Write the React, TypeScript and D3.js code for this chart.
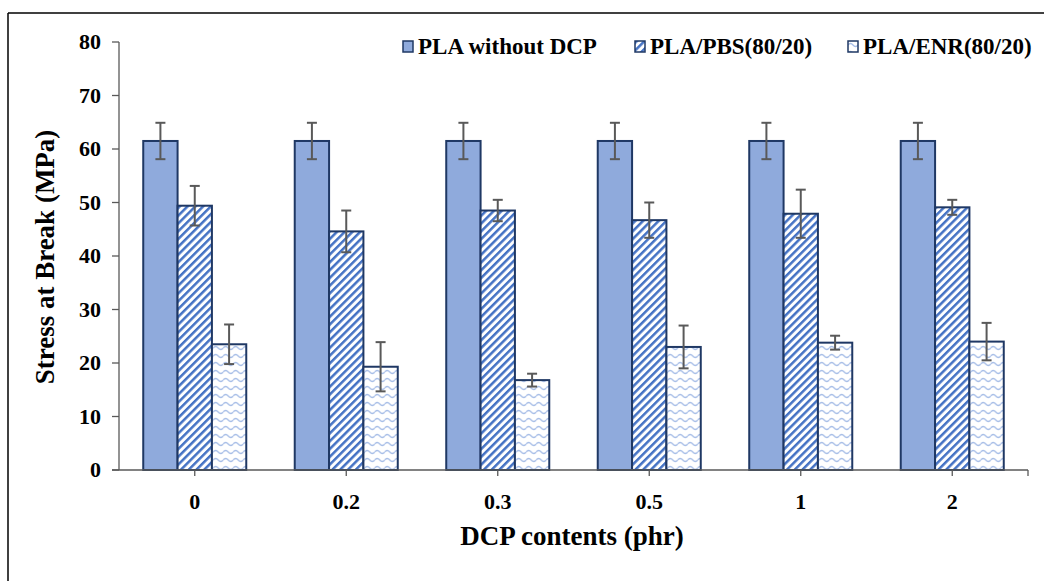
import React from "react";
import * as d3 from "d3";

// chart data
const categories = ["0", "0.2", "0.3", "0.5", "1", "2"];
const seriesNames = ["PLA without DCP", "PLA/PBS(80/20)", "PLA/ENR(80/20)"];
const plaValues = [61.5, 61.5, 61.5, 61.5, 61.5, 61.5];
const plaErrors = [3.4, 3.4, 3.4, 3.4, 3.4, 3.4];
const pbsValues = [49.4, 44.6, 48.5, 46.7, 47.9, 49.1];
const pbsErrors = [3.7, 3.9, 2.0, 3.3, 4.5, 1.4];
const enrValues = [23.5, 19.3, 16.8, 23.0, 23.8, 24.0];
const enrErrors = [3.7, 4.6, 1.2, 4.0, 1.3, 3.5];
const yTicks = [0, 10, 20, 30, 40, 50, 60, 70, 80];

const W = 1044;
const H = 581;
const FONT = "'Liberation Serif', 'Times New Roman', serif";

const series = [
  { name: seriesNames[0], values: plaValues, errors: plaErrors, fill: "#8FAADC" },
  { name: seriesNames[1], values: pbsValues, errors: pbsErrors, fill: "url(#stripes)" },
  { name: seriesNames[2], values: enrValues, errors: enrErrors, fill: "url(#waves)" },
];

export default function App() {
  const left = 119;
  const right = 1028;
  const y0 = 470;
  const yTop = 42;

  const x0 = d3.scaleBand().domain(categories).range([left, right]).paddingInner(0.32).paddingOuter(0.16);
  const x1 = d3.scaleBand().domain(seriesNames).range([0, x0.bandwidth()]);
  const y = d3.scaleLinear().domain([0, 80]).range([y0, yTop]);

  const legendX = [403, 635, 848];

  return (
    <svg width={W} height={H} style={{ position: "absolute", left: 0, top: 0, background: "#fff" }}>
      <defs>
        <pattern id="stripes" patternUnits="userSpaceOnUse" width="5.5" height="5.5" patternTransform="rotate(45)">
          <rect width="5.5" height="5.5" fill="#fff" />
          <rect width="2.5" height="5.5" fill="#4472C4" />
        </pattern>
        <pattern id="waves" patternUnits="userSpaceOnUse" width="10" height="8">
          <rect width="10" height="8" fill="#fff" />
          <path d="M0 4 Q2.5 1 5 4 T10 4" fill="none" stroke="#A9BFE8" strokeWidth="1.3" />
        </pattern>
      </defs>

      {/* frame */}
      <line x1={8} y1={13} x2={W} y2={13} stroke="#000" strokeWidth={1.5} />
      <line x1={8} y1={13} x2={8} y2={H} stroke="#000" strokeWidth={1.5} />

      {/* bars */}
      {categories.map((c, i) => (
        <g key={c} transform={`translate(${x0(c)},0)`}>
          {series.map((s) => (
            <rect
              key={s.name}
              x={x1(s.name)}
              y={y(s.values[i])}
              width={x1.bandwidth()}
              height={y0 - y(s.values[i])}
              fill={s.fill}
              stroke="#1F3864"
              strokeWidth={2}
            />
          ))}
        </g>
      ))}

      {/* axes */}
      <line x1={left} y1={yTop} x2={left} y2={y0} stroke="#595959" strokeWidth={1.3} />
      {yTicks.map((t) => (
        <g key={t}>
          <line x1={left - 7} x2={left} y1={y(t)} y2={y(t)} stroke="#595959" strokeWidth={1.3} />
          <text x={101} y={y(t) + 7} textAnchor="end" fontFamily={FONT} fontWeight="bold" fontSize={22}>
            {t}
          </text>
        </g>
      ))}
      <line x1={left - 7} y1={y0} x2={right} y2={y0} stroke="#595959" strokeWidth={1.3} />
      <line x1={right} y1={y0} x2={right} y2={y0 + 6} stroke="#595959" strokeWidth={1.3} />
      {categories.map((c) => {
        const cx = (x0(c) as number) + x0.bandwidth() / 2;
        return (
          <g key={c}>
            <line x1={cx} x2={cx} y1={y0} y2={y0 + 6} stroke="#595959" strokeWidth={1.3} />
            <text x={cx} y={509} textAnchor="middle" fontFamily={FONT} fontWeight="bold" fontSize={22}>
              {c}
            </text>
          </g>
        );
      })}

      {/* error bars */}
      {categories.map((c, i) => (
        <g key={c} transform={`translate(${x0(c)},0)`}>
          {series.map((s) => {
            const cx = (x1(s.name) as number) + x1.bandwidth() / 2;
            const hi = y(s.values[i] + s.errors[i]);
            const lo = y(s.values[i] - s.errors[i]);
            return (
              <g key={s.name} stroke="#595959" strokeWidth={2}>
                <line x1={cx} x2={cx} y1={hi} y2={lo} />
                <line x1={cx - 5} x2={cx + 5} y1={hi} y2={hi} />
                <line x1={cx - 5} x2={cx + 5} y1={lo} y2={lo} />
              </g>
            );
          })}
        </g>
      ))}

      {/* axis titles */}
      <text
        transform={`translate(54,${(yTop + y0) / 2 + 1}) rotate(-90)`}
        textAnchor="middle"
        fontFamily={FONT}
        fontWeight="bold"
        fontSize={27}
      >
        Stress at Break (MPa)
      </text>
      <text x={572} y={545} textAnchor="middle" fontFamily={FONT} fontWeight="bold" fontSize={27}>
        DCP contents (phr)
      </text>

      {/* legend */}
      {series.map((s, i) => (
        <g key={s.name} transform={`translate(${legendX[i]},41)`}>
          <rect x={0} y={0} width={10} height={11} fill={s.fill} stroke="#1F3864" strokeWidth={1.5} />
          <text x={15} y={13} fontFamily={FONT} fontWeight="bold" fontSize={23}>
            {s.name}
          </text>
        </g>
      ))}
    </svg>
  );
}
